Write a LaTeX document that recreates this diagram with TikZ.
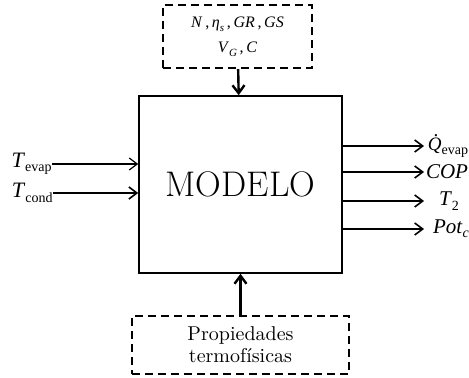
\documentclass[tikz,border=0pt]{standalone}
\usepackage{fontspec}
\newfontfamily\tnr{Liberation Serif}
\usetikzlibrary{positioning,arrows.meta}
\newcommand{\vsub}[3][7]{\textit{#2}\raisebox{-0.45ex}{\fontsize{#1}{#1}\selectfont #3}}
\newcommand{\qdot}{\rlap{\hspace{0.33em}\raisebox{0.72em}{.}}\textit{Q}}

\begin{document}
\begin{tikzpicture}[x=0.5pt,y=-0.5pt,>={Straight Barb[length=4pt,width=6pt]},
  model/.style={draw,line width=0.8pt,minimum width=101.5pt,minimum height=88.5pt,inner sep=0pt},
  dbox/.style={draw,line width=1pt,dash pattern=on 4pt off 2.5pt,inner sep=0pt,align=center},
  var/.style={font=\tnr\fontsize{10.5}{12}\selectfont,inner sep=0pt}]
  \useasboundingbox (0,0) rectangle (469,378);
  \node[model] (mod) at (240.5,184.5) {\fontsize{17.8}{20}\selectfont MODELO};
  \node[dbox,minimum width=74.5pt,minimum height=31.5pt,font=\tnr\fontsize{8}{12.5}\selectfont]
    (param) [above=13pt of mod,xshift=-1.5pt]
    {\textit{N}\,,\,\vsub[5.5]{η}{\textit{s}}\,,\,\textit{GR}\,,\,\textit{GS}\\
     \vsub[5.5]{V}{\textit{G}}\,,\,\textit{C}};
  \node[dbox,minimum width=108.5pt,minimum height=29pt,font=\fontsize{10}{11}\selectfont]
    (prop) [below=20.5pt of mod] {Propiedades\\termofísicas};
  % entradas
  \node[var,font=\tnr\fontsize{11}{13}\selectfont,anchor=east] (tev) at (52,164) {\vsub{T}{evap}};
  \node[var,font=\tnr\fontsize{11}{13}\selectfont,anchor=east] (tco) at (53,193) {\vsub{T}{cond}};
  % salidas
  \coordinate (tip) at (424,0);
  \node[var,font=\tnr\fontsize{9.5}{11}\selectfont] (qev) at (448,146) {\vsub{\qdot}{evap}};
  \node[var] (cop) at (447,172) {\textit{COP}};
  \node[var] (t2) at (449,201) {\vsub{T}{2}};
  \node[var] (pot) at (451,229) {\vsub{Pot}{\textit{c}}};
  \path[->,line width=1.2pt]
    (param) edge (mod)
    (prop) edge (mod);
  \draw[->,line width=0.6pt] (tev) -- (tev -| mod.west);
  \draw[->,line width=0.8pt] (tco) -- (tco -| mod.west);
  \foreach \v in {qev,cop,t2,pot}
    \draw[->,line width=0.8pt] (mod.east |- \v) -- (tip |- \v);
\end{tikzpicture}
\end{document}
